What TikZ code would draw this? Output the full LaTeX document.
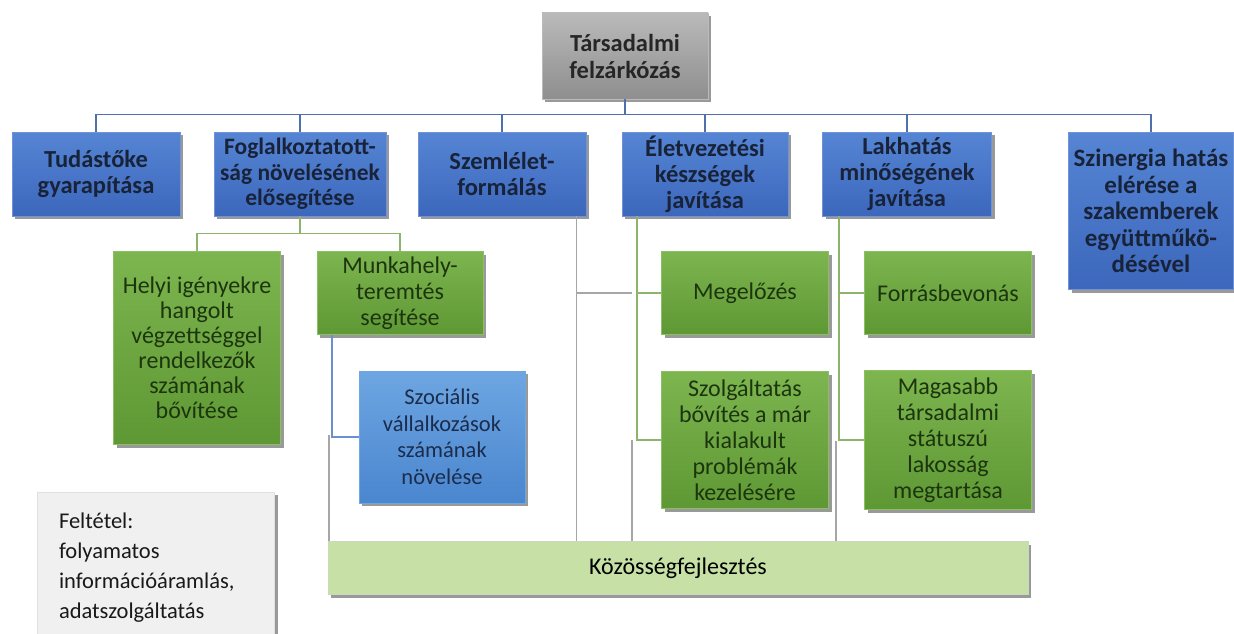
\documentclass[tikz,border=0pt]{standalone}
\usepackage{fontspec}
\setmainfont{Carlito}
\usetikzlibrary{shadows}
\definecolor{blueT}{HTML}{5685D4}
\definecolor{blueB}{HTML}{3C67BC}
\definecolor{blueE}{HTML}{6F93D6}
\definecolor{navy}{HTML}{18233A}
\definecolor{greenT}{HTML}{7DB54F}
\definecolor{greenB}{HTML}{5E9834}
\definecolor{greenE}{HTML}{8CBF63}
\definecolor{gtext}{HTML}{1C350E}
\definecolor{sbT}{HTML}{6EA6E2}
\definecolor{sbB}{HTML}{4A86CF}
\definecolor{sbtext}{HTML}{1B2C4C}
\definecolor{grayT}{HTML}{BABABA}
\definecolor{grayB}{HTML}{8E8E8E}
\definecolor{lgreen}{HTML}{C6E0A6}
\definecolor{lgray}{HTML}{F0F0F0}
\definecolor{topline}{HTML}{4F70AC}
\definecolor{gline}{HTML}{8DB46C}
\definecolor{grline}{HTML}{A6A6A6}
\definecolor{bline}{HTML}{6C8FCF}
\begin{document}
\begin{tikzpicture}[x=1pt,y=-1pt,
  box/.style={rectangle, inner sep=1pt, align=center,
    font=\fontsize{24}{26}\selectfont,
    drop shadow={shadow xshift=3pt,shadow yshift=-3pt,opacity=0.4,fill=black}},
  lone/.style={box, top color=blueT, bottom color=blueB, draw=blueE, line width=0.6pt,
    text=navy, font=\bfseries\fontsize{24.5}{26}\selectfont, minimum width=168pt, minimum height=84pt},
  gbox/.style={box, top color=greenT, bottom color=greenB, draw=greenE, line width=0.6pt,
    text=gtext, minimum width=167pt, minimum height=83pt},
  sbox/.style={box, top color=sbT, bottom color=sbB, draw=sbT, line width=0.6pt,
    text=sbtext, font=\fontsize{22.5}{26.5}\selectfont, minimum width=166pt, minimum height=132pt},
  rootbox/.style={box, top color=grayT, bottom color=grayB, draw=grayT, line width=0.6pt,
    text=black!85, font=\bfseries\fontsize{24.5}{27}\selectfont, minimum width=166pt, minimum height=86pt},
  topc/.style={draw=topline, line width=1.6pt},
  grc/.style={draw=gline, line width=1.6pt},
  gyc/.style={draw=grline, line width=1.6pt},
  blc/.style={draw=bline, line width=1.6pt}
]
\useasboundingbox (0,0) rectangle (1234,634);
\fill[white] (0,0) rectangle (1234,634);
\begin{scope}
\clip (0,0) rectangle (1234,634);
% root
\node[rootbox] (root) at (625,56) {Társadalmi\\felzárkózás};
% level 1
\node[lone] (tud) at (96,174) {Tudástőke\\gyarapítása};
\node[lone, minimum width=172pt, inner sep=0pt, font=\bfseries\fontsize{23.5}{25.5}\selectfont] (fog) at (300,174) {Foglalkoztatott-\\ság növelésének\\elősegítése};
\node[lone] (szem) at (502,174) {Szemlélet-\\formálás};
\node[lone, minimum width=166pt] (elet) at (705,174) {Életvezetési\\készségek\\javítása};
\node[lone, minimum width=169pt] (lak) at (907,174) {Lakhatás\\minőségének\\javítása};
\node[lone, minimum width=165pt, minimum height=157pt, font=\bfseries\fontsize{25}{26.5}\selectfont] (szin) at (1151,211) {Szinergia hatás\\elérése a\\szakemberek\\együttműkö-\\désével};
% level 2
\node[gbox, minimum height=193pt, font=\fontsize{24}{25}\selectfont] (helyi) at (197,348) {Helyi igényekre\\hangolt\\végzettséggel\\rendelkezők\\számának\\bővítése};
\node[gbox, minimum width=166pt] (munka) at (400,293) {Munkahely-\\teremtés\\segítése};
\node[sbox] (szoc) at (442,437) {Szociális\\vállalkozások\\számának\\növelése};
\node[gbox] (meg) at (745,293) {Megelőzés};
\node[gbox] (forr) at (948,293) {Forrásbevonás};
\node[gbox, minimum height=137pt] (szolg) at (745,440) {Szolgáltatás\\bővítés a már\\kialakult\\problémák\\kezelésére};
\node[gbox, minimum height=139pt] (mag) at (948,440) {Magasabb\\társadalmi\\státuszú\\lakosság\\megtartása};
% bottom
\node[box, fill=lgreen, draw=lgreen!85!black!60, line width=0.4pt, minimum width=700pt, minimum height=53pt, text=black] (koz) at (678,568) {Közösségfejlesztés};
\node[box, fill=lgray, draw=black!12, line width=0.6pt, minimum width=237pt, minimum height=152pt,
  text=black!90, font=\fontsize{22.5}{30}\selectfont, text width=194pt, align=left] (felt) at (156,568)
  {Feltétel:\\folyamatos\\információáramlás,\\adatszolgáltatás};
\end{scope}
% top connectors
\foreach \n in {tud,fog,szem,elet,lak,szin}
  \draw[topc] (root.south) -- ++(0,15) -| (\n.north);
% Foglalkoztatottság branch
\draw[grc] (fog.south) -- ++(0,17) -| (helyi.north);
\draw[grc] (fog.south) -- ++(0,17) -| (munka.north);
\draw[blc] ([xshift=15pt]munka.south west) |- (szoc.west);
% gray connectors to Közösségfejlesztés
\draw[gyc] ([xshift=-10pt]szem.south east) -- ([xshift=-10pt]szem.south east |- koz.north);
\draw[gyc] ([xshift=-10pt]szem.south east |- meg.west) -- ([xshift=-29pt]meg.west);
\draw[gyc] ([xshift=1pt]koz.north west) -- ++(0,-106);
\draw[gyc] ([xshift=-46pt]koz.north) -- ++(0,-101);
\draw[gyc] ([xshift=158pt]koz.north) -- ++(0,-100);
% Életvezetési branch
\draw[grc] ([xshift=15pt]elet.south west) |- (meg.west);
\draw[grc] ([xshift=15pt]elet.south west) |- (szolg.west);
% Lakhatás branch
\draw[grc] ([xshift=17pt]lak.south west) |- (forr.west);
\draw[grc] ([xshift=17pt]lak.south west) |- (mag.west);
\end{tikzpicture}
\end{document}
